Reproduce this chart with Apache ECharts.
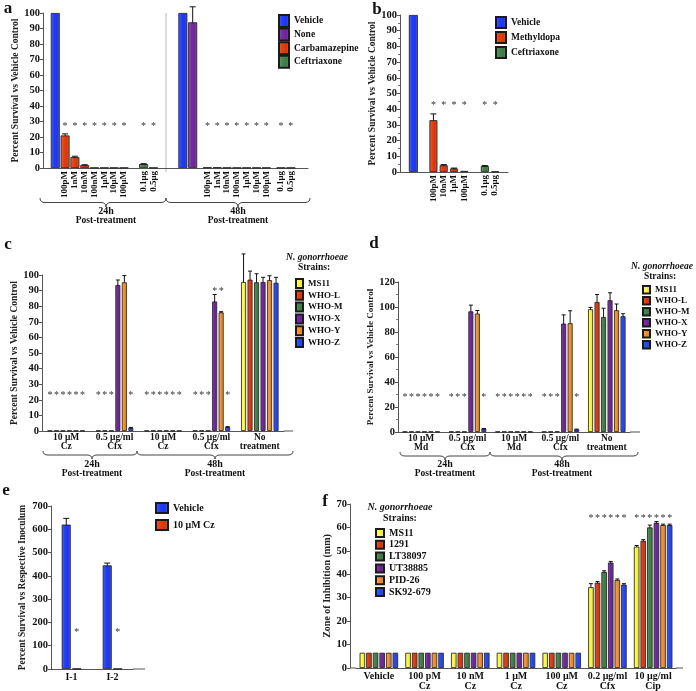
<!DOCTYPE html>
<html>
<head>
<meta charset="utf-8">
<script src="https://cdn.jsdelivr.net/npm/echarts@6/dist/echarts.min.js"></script>
<style>
html, body { margin: 0; padding: 0; background: #fff; }
#main { width: 696px; height: 691px; }
</style>
</head>
<body>
<div id="main"></div>
<script>
var FONT = '"Liberation Serif", "Times New Roman", serif';

// ---------- panel a : carbamazepine ----------
var aConc = ['100pM', '1nM', '10nM', '100nM', '1μM', '10μM', '100μM'];
var aDose = ['0.1μg', '0.5μg'];
var aVehicle = [100, 100];              // 24h, 48h
var aNone48 = [94];
var aNone48Err = [10];
var aCarb24 = [21, 7, 1.8, 0.2, 0.2, 0.2, 0.2];
var aCarb24Err = [1, 0.6, 0.3, 0, 0, 0, 0];
var aCeft24 = [2.5, 0.2];
var aCeft24Err = [0.3, 0];
var aCarb48 = [0.4, 0.4, 0.2, 0.2, 0.2, 0.2, 0.2];
var aCeft48 = [0.2, 0.2];
var aStarY = 28;

// ---------- panel b : methyldopa ----------
var bConc = ['100pM', '10nM', '1μM', '100μM'];
var bDose = ['0.1μg', '0.5μg'];
var bVehicle = [100];
var bMethyl = [33, 4.3, 2.2, 0.7];
var bMethylErr = [4, 0.4, 0.3, 0];
var bCeft = [3.8, 0.3];
var bCeftErr = [0.3, 0];
var bStarY = 44;

// ---------- panel c : Cz vs WHO strains ----------
var whoStrains = ['MS11', 'WHO-L', 'WHO-M', 'WHO-X', 'WHO-Y', 'WHO-Z'];
var cGroups = ['10 μM\nCz', '0.5 μg/ml\nCfx', '10 μM\nCz', '0.5 μg/ml\nCfx', 'No\ntreatment'];
var cMS11 = [0.2, 0.2, 0.2, 0.2, 95.5];
var cWHOL = [0.2, 0.2, 0.2, 0.2, 97];
var cWHOM = [0.2, 0.2, 0.2, 0.2, 95.3];
var cWHOX = [0.2, 93.6, 0.2, 83, 95.5];
var cWHOY = [0.2, 95.3, 0.2, 76, 96.7];
var cWHOZ = [0.2, 2, 0.2, 2.5, 95];
var cMS11Err = [0, 0, 0, 0, 18];
var cWHOLErr = [0, 0, 0, 0, 5.5];
var cWHOMErr = [0, 0, 0, 0, 5.5];
var cWHOXErr = [0, 3.2, 0, 4.5, 3];
var cWHOYErr = [0, 4.3, 0, 0.5, 2.8];
var cWHOZErr = [0, 0.3, 0, 0.3, 3.5];
// [group, strain, y]
var cStars = [
  [0, 0, 24], [0, 1, 24], [0, 2, 24], [0, 3, 24], [0, 4, 24], [0, 5, 24],
  [1, 0, 24], [1, 1, 24], [1, 2, 24], [1, 5, 24],
  [2, 0, 24], [2, 1, 24], [2, 2, 24], [2, 3, 24], [2, 4, 24], [2, 5, 24],
  [3, 0, 24], [3, 1, 24], [3, 2, 24], [3, 5, 24], [3, 3, 91], [3, 4, 91]
];

// ---------- panel d : Md vs WHO strains ----------
var dGroups = ['10 μM\nMd', '0.5 μg/ml\nCfx', '10 μM\nMd', '0.5 μg/ml\nCfx', 'No\ntreatment'];
var dMS11 = [0.3, 0.3, 0.3, 0.3, 98.2];
var dWHOL = [0.3, 0.3, 0.3, 0.3, 104];
var dWHOM = [0.3, 0.3, 0.3, 0.5, 92];
var dWHOX = [0.3, 96.5, 0.3, 86.7, 105.4];
var dWHOY = [0.3, 94.7, 0.3, 87, 97.4];
var dWHOZ = [0.3, 2.5, 0.3, 2, 92.6];
var dMS11Err = [0, 0, 0, 0, 1.5];
var dWHOLErr = [0, 0, 0, 0, 6];
var dWHOMErr = [0, 0, 0, 0, 7];
var dWHOXErr = [0, 5, 0, 7, 6];
var dWHOYErr = [0, 2.5, 0, 10, 5];
var dWHOZErr = [0, 0.3, 0, 0.3, 2];
var dStars = [
  [0, 0, 29], [0, 1, 29], [0, 2, 29], [0, 3, 29], [0, 4, 29], [0, 5, 29],
  [1, 0, 29], [1, 1, 29], [1, 2, 29], [1, 5, 29],
  [2, 0, 29], [2, 1, 29], [2, 2, 29], [2, 3, 29], [2, 4, 29], [2, 5, 29],
  [3, 0, 29], [3, 1, 29], [3, 2, 29], [3, 5, 29]
];

// ---------- panel e : inoculum ----------
var eGroups = ['I-1', 'I-2'];
var eVehicle = [620, 445];
var eVehicleErr = [27, 10];
var eCz = [1.5, 0.8];
var eStars = [[0, 1, 167], [1, 1, 167]];

// ---------- panel f : zone of inhibition ----------
var fStrains = ['MS11', '1291', 'LT38097', 'UT38885', 'PID-26', 'SK92-679'];
var fGroups = ['Vehicle', '100 pM\nCz', '10 nM\nCz', '1 μM\nCz', '100 μM\nCz', '0.2 μg/ml\nCfx', '10 μg/ml\nCip'];
var fMS11 = [6.5, 6.5, 6.5, 6.5, 6.5, 34.5, 51.8];
var f1291 = [6.5, 6.5, 6.5, 6.5, 6.5, 36.4, 54.3];
var fLT38097 = [6.5, 6.5, 6.5, 6.5, 6.5, 41, 60];
var fUT38885 = [6.5, 6.5, 6.5, 6.5, 6.5, 45, 62];
var fPID26 = [6.5, 6.5, 6.5, 6.5, 6.5, 37.6, 61];
var fSK92 = [6.5, 6.5, 6.5, 6.5, 6.5, 35.6, 61];
var fMS11Err = [0, 0, 0, 0, 0, 1.5, 0.5];
var f1291Err = [0, 0, 0, 0, 0, 0.5, 0.5];
var fLT38097Err = [0, 0, 0, 0, 0, 0.5, 1];
var fUT38885Err = [0, 0, 0, 0, 0, 0.5, 0.5];
var fPID26Err = [0, 0, 0, 0, 0, 0.4, 0.4];
var fSK92Err = [0, 0, 0, 0, 0, 0.4, 0.4];
var fStarY = 64.7;

// ---------- layout (slot positions on the fine category axes) ----------
var aN = 54;
var aPos = {
  veh: [2, 28], none48: [30],
  carb24: [4, 6, 8, 10, 12, 14, 16], ceft24: [20, 22],
  carb48: [33, 35, 37, 39, 41, 43, 45], ceft48: [48, 50]
};
var bN = 21;
var bPos = { veh: [2], methyl: [6, 8, 10, 12], ceft: [16, 18] };

var col = {
  vehicle: '#1d37e3', none: '#6a2793', carb: '#d2380e', ceft: '#3f7a47',
  yellow: '#f0ea3c', red: '#d0360f', green: '#3d7843', purple: '#6a2493', orange: '#e0862d', blue: '#2343e6'
};
var strainColors = [col.yellow, col.red, col.green, col.purple, col.orange, col.blue];

function slotArray(n, positions, values) {
  var arr = [];
  for (var i = 0; i < n; i++) arr.push(null);
  positions.forEach(function (p, k) { arr[p] = values[k]; });
  return arr;
}
function ids(n) {
  var arr = [];
  for (var i = 0; i < n; i++) arr.push('s' + i);
  return arr;
}

var aLab = slotArray(aN, aPos.carb24.concat(aPos.ceft24, aPos.carb48, aPos.ceft48),
  aConc.concat(aDose, aConc, aDose));
var bLab = slotArray(bN, bPos.methyl.concat(bPos.ceft), bConc.concat(bDose));

// slightly shaded bars, like the original's glossy fill
var barStyle = function (c) {
  return {
    color: new echarts.graphic.LinearGradient(0, 0, 1, 0, [
      { offset: 0, color: echarts.color.lift(c, 0.25) },
      { offset: 0.35, color: echarts.color.lift(c, -0.12) },
      { offset: 0.7, color: c },
      { offset: 1, color: echarts.color.lift(c, 0.2) }
    ]),
    borderColor: '#1a1a1a', borderWidth: 0.8
  };
};

function errRender(n, pitch, cap) {
  return function (params, api) {
    var cat = api.value(0), off = (api.value(1) - (n - 1) / 2) * pitch;
    var v = api.value(2), e = api.value(3);
    var hi = api.coord([cat, v + e]), lo = api.coord([cat, v - e]);
    var x = hi[0] + off;
    var st = { stroke: '#111', lineWidth: 1 };
    return { type: 'group', children: [
      { type: 'line', shape: { x1: x, y1: hi[1], x2: x, y2: lo[1] }, style: st },
      { type: 'line', shape: { x1: x - cap, y1: hi[1], x2: x + cap, y2: hi[1] }, style: st },
      { type: 'line', shape: { x1: x - cap, y1: lo[1], x2: x + cap, y2: lo[1] }, style: st }
    ] };
  };
}
function starRender(n, pitch) {
  return function (params, api) {
    var p = api.coord([api.value(0), api.value(2)]);
    return { type: 'text', x: p[0] + (api.value(1) - (n - 1) / 2) * pitch, y: p[1] + 2,
      style: { text: '*', fontSize: 10, fontFamily: FONT, fill: '#333', align: 'center', verticalAlign: 'middle' } };
  };
}
function errList(values, errs, positions) {
  var out = [];
  values.forEach(function (v, k) { if (errs[k] > 0) out.push([positions ? positions[k] : k, 0, v, errs[k]]); });
  return out;
}
function groupErrList(valueRows, errRows) {
  var out = [];
  valueRows.forEach(function (row, j) {
    row.forEach(function (v, g) { if (errRows[j][g] > 0) out.push([g, j, v, errRows[j][g]]); });
  });
  return out;
}

var tickFont = { fontFamily: FONT, fontWeight: 'bold', fontSize: 10.5, color: '#111' };
function yAx(grid, max, interval, name, gap, opts) {
  opts = opts || {};
  return {
    type: 'value', gridIndex: grid, min: 0, max: max, interval: interval,
    name: name, nameLocation: 'middle', nameGap: gap,
    nameTextStyle: { fontFamily: FONT, fontWeight: 'bold', fontSize: opts.nameSize || 9.5, color: '#222' },
    offset: opts.offset || 0,
    axisLine: { show: true, lineStyle: { color: '#555', width: 1 } },
    axisTick: { show: true, length: 3, lineStyle: { color: '#555' } },
    minorTick: { show: !!opts.minor, splitNumber: 2, length: 2, lineStyle: { color: '#777' } },
    splitLine: { show: false },
    axisLabel: Object.assign({ margin: 3 }, tickFont)
  };
}
function xAx(grid, data, labels, opts) {
  opts = opts || {};
  return {
    type: 'category', gridIndex: grid, data: data,
    axisLine: { show: true, lineStyle: { color: '#555', width: 1 } },
    axisTick: { show: false },
    splitLine: { show: false },
    axisLabel: {
      interval: 0, rotate: opts.rotate || 0, margin: opts.margin || 3,
      fontFamily: FONT, fontWeight: 'bold', fontSize: opts.size || 9.5, lineHeight: opts.lh || 9.5, color: '#111',
      formatter: function (v, i) { return labels[i] || ''; }
    }
  };
}

var series = [];
// a
series.push(
  { name: 'Vehicle', type: 'bar', xAxisIndex: 0, yAxisIndex: 0, barWidth: 9, barGap: '-100%', data: slotArray(aN, aPos.veh, aVehicle), itemStyle: barStyle(col.vehicle) },
  { name: 'None', type: 'bar', xAxisIndex: 0, yAxisIndex: 0, barWidth: 9, barGap: '-100%', data: slotArray(aN, aPos.none48, aNone48), itemStyle: barStyle(col.none) },
  { name: 'Carbamazepine', type: 'bar', xAxisIndex: 0, yAxisIndex: 0, barWidth: 9, barGap: '-100%', data: slotArray(aN, aPos.carb24.concat(aPos.carb48), aCarb24.concat(aCarb48)), itemStyle: barStyle(col.carb) },
  { name: 'Ceftriaxone', type: 'bar', xAxisIndex: 0, yAxisIndex: 0, barWidth: 9, barGap: '-100%', data: slotArray(aN, aPos.ceft24.concat(aPos.ceft48), aCeft24.concat(aCeft48)), itemStyle: barStyle(col.ceft) },
  { type: 'custom', xAxisIndex: 0, yAxisIndex: 0, clip: false, renderItem: errRender(1, 0, 3),
    data: errList(aCarb24, aCarb24Err, aPos.carb24).concat(errList(aCeft24, aCeft24Err, aPos.ceft24), errList(aNone48, aNone48Err, aPos.none48)) },
  { type: 'custom', xAxisIndex: 0, yAxisIndex: 0, clip: false, renderItem: starRender(1, 0),
    data: aPos.carb24.concat(aPos.ceft24, aPos.carb48, aPos.ceft48).map(function (p) { return [p, 0, aStarY]; }) }
);
// b
series.push(
  { name: 'Vehicle', type: 'bar', xAxisIndex: 1, yAxisIndex: 1, barWidth: 9, barGap: '-100%', data: slotArray(bN, bPos.veh, bVehicle), itemStyle: barStyle(col.vehicle) },
  { name: 'Methyldopa', type: 'bar', xAxisIndex: 1, yAxisIndex: 1, barWidth: 8, barGap: '-100%', data: slotArray(bN, bPos.methyl, bMethyl), itemStyle: barStyle(col.carb) },
  { name: 'Ceftriaxone', type: 'bar', xAxisIndex: 1, yAxisIndex: 1, barWidth: 8, barGap: '-100%', data: slotArray(bN, bPos.ceft, bCeft), itemStyle: barStyle(col.ceft) },
  { type: 'custom', xAxisIndex: 1, yAxisIndex: 1, clip: false, renderItem: errRender(1, 0, 3),
    data: errList(bMethyl, bMethylErr, bPos.methyl).concat(errList(bCeft, bCeftErr, bPos.ceft)) },
  { type: 'custom', xAxisIndex: 1, yAxisIndex: 1, clip: false, renderItem: starRender(1, 0),
    data: bPos.methyl.concat(bPos.ceft).map(function (p) { return [p, 0, bStarY]; }) }
);
// c
var cRows = [cMS11, cWHOL, cWHOM, cWHOX, cWHOY, cWHOZ];
var cErrRows = [cMS11Err, cWHOLErr, cWHOMErr, cWHOXErr, cWHOYErr, cWHOZErr];
cRows.forEach(function (row, j) {
  series.push({ name: whoStrains[j], type: 'bar', xAxisIndex: 2, yAxisIndex: 2, barWidth: 5, barGap: '30%', data: row, itemStyle: barStyle(strainColors[j]) });
});
series.push(
  { type: 'custom', xAxisIndex: 2, yAxisIndex: 2, clip: false, renderItem: errRender(6, 6.5, 2), data: groupErrList(cRows, cErrRows) },
  { type: 'custom', xAxisIndex: 2, yAxisIndex: 2, clip: false, renderItem: starRender(6, 6.5), data: cStars }
);
// d
var dRows = [dMS11, dWHOL, dWHOM, dWHOX, dWHOY, dWHOZ];
var dErrRows = [dMS11Err, dWHOLErr, dWHOMErr, dWHOXErr, dWHOYErr, dWHOZErr];
dRows.forEach(function (row, j) {
  series.push({ name: whoStrains[j], type: 'bar', xAxisIndex: 3, yAxisIndex: 3, barWidth: 5, barGap: '30%', data: row, itemStyle: barStyle(strainColors[j]) });
});
series.push(
  { type: 'custom', xAxisIndex: 3, yAxisIndex: 3, clip: false, renderItem: errRender(6, 6.5, 2), data: groupErrList(dRows, dErrRows) },
  { type: 'custom', xAxisIndex: 3, yAxisIndex: 3, clip: false, renderItem: starRender(6, 6.5), data: dStars }
);
// e
series.push(
  { name: 'Vehicle', type: 'bar', xAxisIndex: 4, yAxisIndex: 4, barWidth: 9, barGap: '17%', data: eVehicle, itemStyle: barStyle(col.vehicle) },
  { name: '10 μM Cz', type: 'bar', xAxisIndex: 4, yAxisIndex: 4, barWidth: 9, barGap: '17%', data: eCz, itemStyle: barStyle(col.carb) },
  { type: 'custom', xAxisIndex: 4, yAxisIndex: 4, clip: false, renderItem: errRender(2, 10.5, 3),
    data: groupErrList([eVehicle, eCz], [eVehicleErr, [0, 0]]) },
  { type: 'custom', xAxisIndex: 4, yAxisIndex: 4, clip: false, renderItem: starRender(2, 10.5), data: eStars }
);
// f
var fRows = [fMS11, f1291, fLT38097, fUT38885, fPID26, fSK92];
var fErrRows = [fMS11Err, f1291Err, fLT38097Err, fUT38885Err, fPID26Err, fSK92Err];
fRows.forEach(function (row, j) {
  series.push({ name: fStrains[j], type: 'bar', xAxisIndex: 5, yAxisIndex: 5, barWidth: 5.5, barGap: '20%', data: row, itemStyle: barStyle(strainColors[j]) });
});
var fStars = [];
[5, 6].forEach(function (g) { for (var j = 0; j < 6; j++) fStars.push([g, j, fStarY]); });
series.push(
  { type: 'custom', xAxisIndex: 5, yAxisIndex: 5, clip: false, renderItem: errRender(6, 6.6, 2), data: groupErrList(fRows, fErrRows) },
  { type: 'custom', xAxisIndex: 5, yAxisIndex: 5, clip: false, renderItem: starRender(6, 6.6), data: fStars }
);

// ---------- decorations ----------
var braceStyle = { fill: 'none', stroke: '#444', lineWidth: 1 };
function curve(x1, y1, cx, cy, x2, y2) {
  return { type: 'bezierCurve', silent: true, shape: { x1: x1, y1: y1, x2: x2, y2: y2, cpx1: cx, cpy1: cy }, style: braceStyle };
}
function seg(x1, y1, x2, y2) {
  return { type: 'line', silent: true, shape: { x1: x1, y1: y1, x2: x2, y2: y2 }, style: braceStyle };
}
function brace(x1, x2, xm, y0, d) {
  var h = y0 + d / 2, t = y0 + d;
  return { type: 'group', silent: true, children: [
    curve(x1, y0, x1, h, x1 + 5, h), seg(x1 + 5, h, xm - 5, h), curve(xm - 5, h, xm, h, xm, t),
    curve(xm, t, xm, h, xm + 5, h), seg(xm + 5, h, x2 - 5, h), curve(x2 - 5, h, x2, h, x2, y0)
  ] };
}
function txt(x, y, s, size, extra) {
  return { type: 'text', x: x, y: y, silent: true,
    style: Object.assign({ text: s, fontFamily: FONT, fontWeight: 'bold', fontSize: size, fill: '#111', align: 'center', verticalAlign: 'middle' }, extra || {}) };
}
function hline(x1, x2, y, c) {
  return { type: 'line', silent: true, shape: { x1: x1, y1: y, x2: x2, y2: y }, style: { stroke: c || '#555', lineWidth: 1 } };
}
function timeLabel(x, y, h) {
  return [txt(x, y, h, 10), txt(x, y + 10, 'Post-treatment', 9.5)];
}
var graphics = [
  txt(8, 9, 'a', 17), txt(377, 10, 'b', 17), txt(8, 245, 'c', 17), txt(374, 244, 'd', 17), txt(6, 491, 'e', 17), txt(325, 502, 'f', 17),
  { type: 'line', silent: true, shape: { x1: 166, y1: 13, x2: 166, y2: 172 }, style: { stroke: '#bbb', lineWidth: 1 } },
  brace(40, 166, 106, 198, 9), brace(166, 310, 238, 198, 9),
  brace(43, 137, 92, 451, 8), brace(137, 293, 215, 451, 8),
  brace(400, 490, 445, 452, 8), brace(490, 638, 562, 452, 8),
  hline(284, 293, 431), hline(630, 640, 432), hline(133, 145, 669), hline(350, 356, 668), hline(676, 683, 668),
  txt(317, 258, 'N. gonorrhoeae', 9.5, { fontStyle: 'italic' }), txt(314, 268, 'Strains:', 9.5),
  txt(662, 267, 'N. gonorrhoeae', 9.5, { fontStyle: 'italic' }), txt(660, 277, 'Strains:', 9.5),
  txt(400, 507, 'N. gonorrhoeae', 10, { fontStyle: 'italic' }), txt(400, 518, 'Strains:', 10)
].concat(timeLabel(106, 211, '24h'), timeLabel(238, 211, '48h'),
  timeLabel(92, 464, '24h'), timeLabel(215, 464, '48h'),
  timeLabel(445, 464, '24h'), timeLabel(562, 464, '48h'));

function legendAt(names, left, top, w, h, gap, size) {
  return { data: names, orient: 'vertical', left: left, top: top, itemWidth: w, itemHeight: h, itemGap: gap,
    icon: 'rect', selectedMode: false, padding: 0,
    textStyle: { fontFamily: FONT, fontWeight: 'bold', fontSize: size, lineHeight: h, color: '#111' } };
}

var myChart = echarts.init(document.getElementById('main'), null, { renderer: 'canvas' });
var option = {
  animation: false,
  backgroundColor: '#fff',
  grid: [
    { left: 43, top: 13, width: 265, height: 155, outerBoundsMode: 'none' },
    { left: 400, top: 15, width: 108, height: 157, outerBoundsMode: 'none' },
    { left: 42, top: 275, width: 242, height: 156, outerBoundsMode: 'none' },
    { left: 398, top: 282, width: 232, height: 150, outerBoundsMode: 'none' },
    { left: 51, top: 506, width: 82, height: 163, outerBoundsMode: 'none' },
    { left: 356, top: 504, width: 320, height: 164, outerBoundsMode: 'none' }
  ],
  xAxis: [
    xAx(0, ids(aN), aLab, { rotate: 90, size: 9, margin: 3 }),
    xAx(1, ids(bN), bLab, { rotate: 90, size: 9, margin: 3 }),
    xAx(2, ids(5), cGroups, { size: 9.5, lh: 9, margin: 2 }),
    xAx(3, ids(5), dGroups, { size: 9.5, lh: 9, margin: 2 }),
    xAx(4, eGroups, eGroups, { size: 10, margin: 4 }),
    xAx(5, fGroups, fGroups, { size: 10, lh: 10, margin: 3 })
  ],
  yAxis: [
    yAx(0, 100, 10, 'Percent Survival vs Vehicle Control', 22),
    yAx(1, 100, 10, 'Percent Survival vs Vehicle Control', 22, { minor: true }),
    yAx(2, 100, 10, 'Percent Survival vs Vehicle Control', 22),
    yAx(3, 120, 20, 'Percent Survival vs Vehicle Control', 22, { minor: true, nameSize: 9 }),
    yAx(4, 700, 100, 'Percent Survival vs Respective Inoculum', 23, { nameSize: 9.5 }),
    yAx(5, 70, 10, 'Zone of Inhibition (mm)', 14, { offset: 6, nameSize: 10 })
  ],
  legend: [
    legendAt(['Vehicle', 'None', 'Carbamazepine', 'Ceftriaxone'], 278, 14, 10, 12, -0.4, 9.5),
    legendAt(['Vehicle', 'Methyldopa', 'Ceftriaxone'], 495, 16, 10, 11, 2, 9.5),
    legendAt(whoStrains, 295, 278, 7, 9, 0.8, 9),
    legendAt(whoStrains, 642, 285, 7, 7.5, 1.5, 9),
    legendAt(['Vehicle', '10 μM Cz'], 155, 502, 12, 10, 5, 10),
    legendAt(fStrains, 375, 528, 8, 8, 1.8, 10)
  ],
  graphic: graphics,
  series: series
};
myChart.setOption(option);
window.onresize = myChart.resize;
</script>
</body>
</html>
